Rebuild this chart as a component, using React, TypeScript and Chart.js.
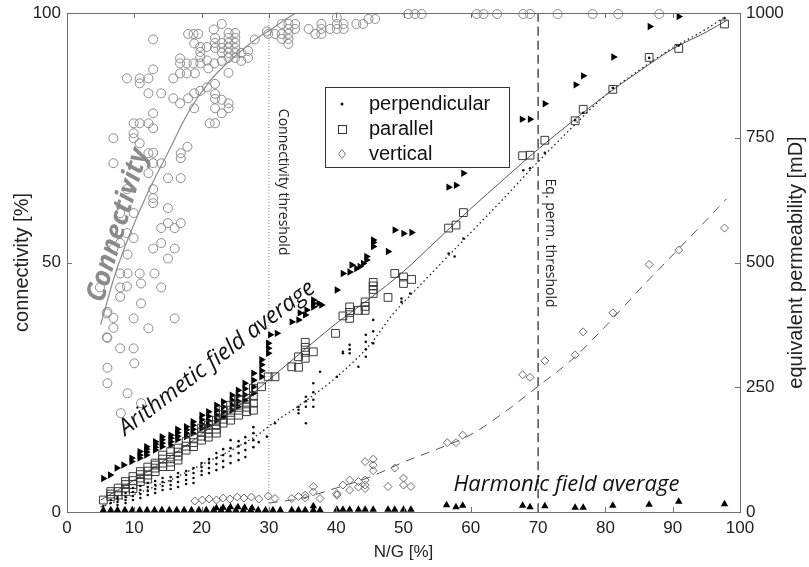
import React, { useEffect, useRef } from "react";
import { Chart, registerables } from "chart.js";

Chart.register(...registerables);

type Pt = [number, number];
type Col = [number, number[]];

// ---------- axes ----------
const xTicks = [0, 10, 20, 30, 40, 50, 60, 70, 80, 90, 100];
const connTicks = [0, 50, 100];
const permTicks = [0, 250, 500, 750, 1000];
const xTitle = "N/G [%]";
const connTitle = "connectivity [%]";
const permTitle = "equivalent permeability [mD]";

// ---------- thresholds (N/G %) ----------
const connThreshold = 30;
const permThreshold = 70;

// ---------- connectivity [%] (left axis) ----------
const connectivity: Pt[] = [
  [4.9, 45], [5.9, 39.8], [5.9, 35], [6.0, 40.1], [6.0, 28.9], [6.0, 25.8], [6.0, 34.9],
  [6.9, 74.9], [6.9, 69.9], [6.9, 52.8], [6.9, 38.9], [6.9, 36.9],
  [7.9, 59.9], [7.9, 53.9], [7.9, 47.8], [7.9, 45], [7.9, 43.1], [7.9, 32.8], [8.0, 19.8],
  [8.9, 86.9], [8.9, 64.7], [8.9, 55.9], [8.9, 45.2], [9.0, 51.6], [9.0, 47.8], [9.0, 23.8],
  [9.9, 77.9], [9.9, 75.9], [9.9, 74.9], [9.9, 59.9], [9.9, 54.9], [9.9, 38.8], [9.9, 32.8], [10, 29.8],
  [10.8, 86.9], [10.8, 85.9], [10.8, 77.9], [10.8, 73.9], [10.8, 47.8], [11, 45.8], [11, 41.8], [11, 21.8],
  [12.1, 86.9], [12.1, 83.9], [12.1, 77.9], [12.1, 71.9], [12.1, 67.9], [12.1, 36.8],
  [12.8, 94.7], [12.8, 88.7], [12.8, 79.9], [12.8, 76.9], [12.8, 72.0], [12.8, 69.9], [12.8, 64.7],
  [12.8, 62.9], [12.8, 61.9], [12.8, 52.8], [13, 47.8],
  [14, 83.9], [14, 69.9], [14, 56.9], [14, 53.9], [14, 45],
  [15, 66.9], [15, 60.9], [15, 57.9], [15, 50.8],
  [15.8, 86.9], [15.8, 82.9], [16, 52.8], [16, 38.8], [16, 56.9],
  [16.8, 89.9], [16.8, 90.9], [16.8, 87.9], [16.8, 81.9], [16.9, 71.9], [16.9, 70.9], [16.9, 66.9], [16.9, 57.9],
  [17.8, 89.9], [17.8, 87.9], [17.9, 73.2], [18, 95.8], [18, 82.9],
  [18.8, 95.8], [18.8, 89.9], [18.9, 93.9], [18.9, 83.9], [18.9, 80.9], [19, 87.9],
  [19.5, 95.8], [19.8, 93.2], [19.8, 92.2], [19.8, 91.2], [19.8, 89.9], [19.8, 84.4],
  [20.8, 93.2], [20.8, 90.5], [20.8, 85.1], [21.2, 77.9], [21, 88.9],
  [21.8, 96.7], [21.9, 89.9], [22, 95], [22, 94], [22, 93], [22, 85.8], [22, 83.8], [22, 82.8], [22, 80.9], [22, 77.9],
  [23, 97.8], [23, 94], [23, 93], [23, 92], [23, 90.4], [23, 82.6], [23, 79.9],
  [24, 96], [24, 95], [24, 94], [24, 93], [24, 92], [24, 91], [24, 88], [24, 81.9], [24, 80.9],
  [25, 96], [25, 95], [25, 94], [25, 93], [25, 92], [25, 91],
  [25.9, 92], [25.9, 90.4], [26.9, 91], [26.9, 92.4], [27.9, 94.7], [29.7, 96.3],
  [29.9, 95.8], [30.9, 95.8], [31.9, 97.8], [31.9, 95.8], [31.9, 94.8],
  [32.9, 97.8], [32.9, 96.8], [32.9, 95.8], [32.9, 94.8], [32.9, 93.8], [33.9, 97.8], [33.9, 96.8],
  [35.9, 96.8], [36.9, 95.8], [37.8, 97.8], [37.8, 96.8], [37.8, 95.8], [39.1, 96.8],
  [40.1, 99.1], [40.1, 97.8], [40.1, 96.8], [41.1, 97.8], [41.1, 96.8], [43, 97.8], [44, 97.8],
  [44.8, 98.8], [45.8, 98.8],
  [50.7, 99.8], [51.7, 99.8], [52.7, 99.8], [60.9, 99.8], [61.9, 99.8], [63.9, 99.8],
  [67.8, 99.8], [68.8, 99.8], [72.9, 99.8], [78.1, 99.8], [81.9, 99.8], [88, 99.8],
];
const connectivityFit: Pt[] = [
  [5, 37.5], [7, 47], [9.4, 55.9], [12, 64], [15, 72], [18, 80], [21, 86], [23.2, 89.2],
  [25.5, 92], [28.2, 94.9], [30.2, 96.6], [32, 98.3], [34, 100],
];

// ---------- equivalent permeability [mD] (right axis) ----------
const arithmetic: Col[] = [
  [5.4, [67]], [6.4, [74]], [7.4, [88]], [8.4, [94]], [9.6, [101, 108]],
  [10.8, [108, 114, 121]], [11.8, [114, 120, 126, 131]], [13.1, [124, 130, 136, 141]],
  [14.1, [131, 138, 145, 151]], [15.4, [134, 141, 148, 154]], [16.4, [145, 152, 159, 166]],
  [17.7, [151, 158, 165, 171]], [18.7, [158, 166, 174, 181]], [20.0, [168, 176, 185, 194]],
  [21.0, [174, 183, 192, 201]], [22.2, [184, 194, 204, 214]], [23.2, [191, 201, 211, 221]],
  [24.5, [204, 214, 224, 234]], [25.4, [211, 222, 233, 244]], [26.4, [224, 235, 247, 258]],
  [27.7, [238, 251, 264, 278]], [28.9, [271, 283, 295, 305]], [29.9, [318, 328, 338]],
  [30.2, [355]], [31.2, [358]], [33.4, [381]], [34.4, [385]], [34.6, [399]], [35.4, [395]],
  [35.6, [405]], [36.6, [411, 418, 425]], [37.4, [418]], [37.8, [415]], [40.1, [445]],
  [41.0, [478]], [42.0, [481]], [42.3, [495]], [43.0, [488]], [43.5, [492]], [44.0, [498]],
  [44.5, [505, 512]], [45.5, [532, 540, 545]], [47.7, [522]], [48.7, [565]], [50.0, [558]],
  [51.2, [560]], [56.7, [651]], [57.8, [655]], [58.9, [679]], [67.6, [787]], [68.8, [787]],
  [71.0, [818]], [75.6, [856]], [76.7, [874]], [81.2, [912]], [86.6, [973]], [90.9, [993]],
];

const parallel: Col[] = [
  [5.4, [24]], [6.5, [31, 36, 41]], [7.6, [34, 41, 48]], [8.7, [41, 48, 55, 61]],
  [9.8, [47, 55, 63, 71]], [10.9, [61, 68, 75, 81]], [12.0, [66, 74, 82, 90]],
  [13.1, [81, 88, 94, 98]], [14.2, [91, 98, 106, 114]], [15.4, [91, 100, 110, 121]],
  [16.5, [104, 112, 120, 128]], [17.7, [124, 132, 141]], [18.8, [131, 139, 148]],
  [20.0, [144, 152, 160, 168]], [21.0, [150, 158, 166, 174]], [22.2, [158, 166, 175, 184]],
  [23.2, [178, 186, 195, 204]], [24.3, [184, 194, 204, 214]], [25.5, [194, 204, 214, 224]],
  [26.7, [201, 210, 220, 228]], [27.7, [204, 218, 232, 248]], [28.9, [251]],
  [29.9, [271]], [30.9, [271]], [33.4, [291]], [34.4, [290, 311]], [35.4, [308, 320, 330, 340]],
  [36.6, [321]], [39.9, [358]], [41.0, [393]], [42.0, [388, 400, 411]], [43.3, [404]],
  [44.3, [404, 412, 421]], [45.5, [438, 446, 453, 460]], [47.7, [430]], [48.7, [478]],
  [50.0, [458, 471]], [51.2, [466]], [56.7, [569]], [57.8, [575]], [58.9, [600]],
  [67.7, [714]], [68.8, [715]], [71.0, [745]], [75.5, [784]], [76.7, [807]], [81.1, [847]],
  [86.5, [911]], [90.9, [929]], [97.7, [978]],
];
const parallelFit: Pt[] = [
  [5, 24], [10, 64], [15, 108], [20, 156], [25, 208], [30, 265], [35, 322], [40, 378],
  [45, 428], [50, 482], [55, 545], [60, 608], [65, 668], [70, 727], [75, 782], [80, 835],
  [85, 883], [90, 928], [95, 962], [98, 985],
];

const perpendicular: Col[] = [
  [5.4, [12]], [6.5, [18, 24]], [7.5, [14, 20, 26, 30]], [8.7, [18, 24, 30, 38]],
  [9.8, [24, 32, 40, 48]], [10.9, [28, 36, 44, 52]], [12.0, [34, 42, 50, 58]],
  [13.1, [38, 46, 54, 62]], [14.2, [44, 52, 60, 68]], [15.4, [46, 54, 62, 70]],
  [16.5, [50, 60, 70, 78]], [17.7, [56, 64, 74, 82]], [18.8, [58, 68, 78, 88]],
  [20.0, [74, 82, 90, 98]], [21.1, [78, 88, 98, 106]], [22.2, [84, 96, 108, 118]],
  [23.2, [90, 102, 114, 126]], [24.3, [98, 112, 128, 144]], [25.5, [104, 118, 132, 142]],
  [26.5, [110, 124, 138, 150]], [27.7, [130, 144, 158, 170]], [28.5, [140]], [29.7, [151]],
  [30.9, [178]], [34.4, [198, 205, 211]], [35.5, [178, 211, 222, 231]],
  [36.6, [211, 225, 240, 258]], [37.6, [281]], [40.1, [271]], [41.0, [318, 321]],
  [42.0, [318, 326, 335]], [43.3, [291]], [44.4, [311, 326, 341, 355]], [45.5, [338, 362, 385]],
  [49.7, [421, 428]], [51.0, [438]], [56.7, [518]], [57.6, [512]], [58.9, [548]],
  [67.8, [685]], [68.8, [689]], [71.0, [720]], [75.5, [785]], [76.7, [800]], [81.1, [850]],
  [86.5, [910]], [90.9, [935]], [97.7, [990]],
];
const perpendicularFit: Pt[] = [
  [5, 10], [10, 35], [15, 62], [20, 95], [25, 128], [28.7, 158], [30, 172], [35, 218],
  [40, 270], [45, 335], [48.5, 398], [50, 420], [52.5, 455], [55, 490], [60, 560],
  [65, 630], [68.8, 685], [70, 702], [75, 770], [80, 835], [85, 885], [90, 930],
  [95, 968], [97.5, 990],
];

const vertical: Col[] = [
  [19.0, [22]], [20.1, [24]], [21.1, [26]], [22.2, [24]], [23.2, [28]], [24.2, [26]],
  [25.3, [30]], [26.3, [28]], [27.4, [30]], [28.5, [26]], [29.9, [32]], [30.9, [27]],
  [33.4, [27]], [34.4, [31]], [35.4, [28, 34]], [36.6, [40, 51]], [37.6, [27]],
  [40.1, [34, 37]], [41.0, [54]], [42.0, [44, 64]], [43.3, [50, 61]], [44.3, [47, 54, 64, 101]],
  [45.5, [83, 94, 106]], [47.7, [51]], [48.7, [88]], [50.0, [54, 68]], [51.1, [51]],
  [56.5, [139]], [57.8, [139]], [58.8, [154]], [67.7, [275]], [68.8, [270]], [71.0, [303]],
  [75.5, [315]], [76.7, [361]], [81.1, [399]], [86.5, [496]], [90.9, [525]], [97.7, [569]],
];
const verticalFit: Pt[] = [
  [30, 18], [35, 28], [40, 48], [45, 70], [50, 100], [55, 126], [60, 155], [65, 200],
  [70, 252], [75, 305], [80, 372], [85, 445], [90, 515], [95, 585], [98, 628],
];

const harmonic: Pt[] = [
  [5.4, 4], [6.5, 4], [7.5, 4], [8.6, 4], [9.7, 4], [10.8, 4], [11.9, 4], [13.0, 4], [14.1, 4],
  [15.2, 4], [16.3, 4], [17.4, 4], [18.5, 4], [19.6, 4], [20.7, 4], [21.8, 4], [22.2, 8],
  [22.9, 4], [23.2, 9], [24.0, 4], [24.3, 10], [25.1, 4], [25.4, 10], [26.2, 4], [26.4, 9],
  [27.3, 4], [27.5, 8], [28.4, 4], [29.5, 4], [30.6, 4], [31.7, 4], [33.4, 4], [34.4, 4],
  [35.4, 4], [36.6, 4], [36.6, 12], [37.6, 4], [40.1, 5], [41.0, 5], [42.0, 5], [43.3, 5],
  [44.3, 5], [45.5, 5], [47.7, 5], [48.7, 5], [50.0, 5], [51.1, 5], [56.4, 14], [57.8, 10],
  [58.8, 13], [67.7, 13], [68.8, 10], [71.0, 12], [75.5, 9], [76.7, 9], [81.1, 13],
  [86.5, 15], [90.9, 21], [97.7, 16],
];

// ---------- legend & annotations ----------
const legendLabels = ["perpendicular", "parallel", "vertical"];

type Note = { text: string; x: number; y: number; axis: "conn" | "perm"; angle: number; font: string; color: string };
const notes: Note[] = [
  { text: "Connectivity", x: 7.6, y: 57.5, axis: "conn", angle: -73.5, font: 'italic bold 27px "Open Sans"', color: "#8a8a8a" },
  { text: "Arithmetic field average", x: 22.3, y: 308, axis: "perm", angle: -37.3, font: 'italic 23px "Open Sans"', color: "#111" },
  { text: "Harmonic field average", x: 74.2, y: 55, axis: "perm", angle: 0, font: 'italic 22px "Open Sans"', color: "#111" },
  { text: "Connectivity threshold", x: 32.1, y: 66.1, axis: "conn", angle: 90, font: '14px "Open Sans"', color: "#222" },
  { text: "Eq. perm. threshold", x: 71.8, y: 53.9, axis: "conn", angle: 90, font: '14px "Open Sans"', color: "#222" },
];

const pts = (a: Pt[]) => a.map(([x, y]) => ({ x, y }));
const flat = (c: Col[]) => c.flatMap(([x, ys]) => ys.map((y) => ({ x, y })));

const FRAME = "#6e6e6e";
const AXIS_FONT = '"Liberation Sans", Arial, sans-serif';

const decor = {
  id: "decor",
  afterDraw(chart: any) {
    const { ctx, chartArea: a, scales } = chart;
    const sx = scales.x, sl = scales.yConn, sr = scales.yPerm;
    ctx.save();
    // frame
    ctx.strokeStyle = FRAME;
    ctx.lineWidth = 1;
    ctx.strokeRect(Math.round(a.left) + 0.5, Math.round(a.top) + 0.5, Math.round(a.right - a.left), Math.round(a.bottom - a.top));
    // inward ticks
    const T = 5;
    ctx.beginPath();
    xTicks.forEach((v) => {
      const p = Math.round(sx.getPixelForValue(v)) + 0.5;
      ctx.moveTo(p, a.bottom); ctx.lineTo(p, a.bottom - T);
      ctx.moveTo(p, a.top); ctx.lineTo(p, a.top + T);
    });
    connTicks.forEach((v) => {
      const p = Math.round(sl.getPixelForValue(v)) + 0.5;
      ctx.moveTo(a.left, p); ctx.lineTo(a.left + T, p);
    });
    permTicks.forEach((v) => {
      const p = Math.round(sr.getPixelForValue(v)) + 0.5;
      ctx.moveTo(a.right, p); ctx.lineTo(a.right - T, p);
    });
    ctx.stroke();

    // axis titles
    ctx.fillStyle = "#222";
    ctx.textAlign = "center";
    ctx.textBaseline = "middle";
    ctx.font = `17px ${AXIS_FONT}`;
    ctx.fillText(xTitle, (a.left + a.right) / 2, 552);
    ctx.font = `20px ${AXIS_FONT}`;
    ctx.save();
    ctx.translate(22, (a.top + a.bottom) / 2);
    ctx.rotate(-Math.PI / 2);
    ctx.fillText(connTitle, 0, 0);
    ctx.restore();
    ctx.save();
    ctx.translate(796, (a.top + a.bottom) / 2);
    ctx.rotate(-Math.PI / 2);
    ctx.fillText(permTitle, 0, 0);
    ctx.restore();

    // annotations
    notes.forEach((n) => {
      const px = sx.getPixelForValue(n.x);
      const py = (n.axis === "conn" ? sl : sr).getPixelForValue(n.y);
      ctx.save();
      ctx.translate(px, py);
      ctx.rotate((n.angle * Math.PI) / 180);
      ctx.font = n.font;
      ctx.fillStyle = n.color;
      ctx.textAlign = "center";
      ctx.textBaseline = "middle";
      ctx.fillText(n.text, 0, 0);
      ctx.restore();
    });

    // legend box
    const bx = a.left + 258, by = a.top + 74, bw = 184, bh = 80;
    ctx.fillStyle = "#fff";
    ctx.fillRect(bx, by, bw, bh);
    ctx.strokeStyle = "#333";
    ctx.strokeRect(bx + 0.5, by + 0.5, bw, bh);
    ctx.font = `20px ${AXIS_FONT}`;
    ctx.textAlign = "left";
    ctx.fillStyle = "#111";
    legendLabels.forEach((lab, i) => {
      const cy = by + 17 + i * 25;
      const mx = bx + 17;
      ctx.fillText(lab, bx + 44, cy);
      ctx.beginPath();
      if (i === 0) {
        ctx.fillStyle = "#111";
        ctx.arc(mx, cy, 1.5, 0, Math.PI * 2);
        ctx.fill();
      } else if (i === 1) {
        ctx.strokeStyle = "#333";
        ctx.strokeRect(mx - 4 + 0.5, cy - 4 + 0.5, 8, 8);
      } else {
        ctx.strokeStyle = "#777";
        ctx.moveTo(mx, cy - 4.5); ctx.lineTo(mx + 3.5, cy); ctx.lineTo(mx, cy + 4.5); ctx.lineTo(mx - 3.5, cy); ctx.closePath();
        ctx.stroke();
      }
      ctx.fillStyle = "#111";
    });
    ctx.restore();
  },
};

export default function App() {
  const ref = useRef<HTMLCanvasElement | null>(null);
  useEffect(() => {
    if (!ref.current) return;
    Chart.defaults.font.family = AXIS_FONT;
    const line = (data: Pt[], yAxisID: string, color: string, dash: number[], width = 1, tension = 0.35) => ({
      type: "line" as const,
      data: pts(data),
      yAxisID,
      showLine: true,
      borderColor: color,
      borderWidth: width,
      borderDash: dash,
      pointRadius: 0,
      fill: false,
      tension,
      cubicInterpolationMode: "monotone" as const,
    });
    const chart = new Chart(ref.current, {
      type: "scatter",
      data: {
        datasets: [
          {
            label: "perpendicular",
            data: flat(perpendicular),
            yAxisID: "yPerm",
            pointStyle: "circle",
            pointRadius: 1.3,
            backgroundColor: "#111",
            borderColor: "#111",
            borderWidth: 0,
            clip: false,
          } as any,
          {
            label: "parallel",
            data: flat(parallel),
            yAxisID: "yPerm",
            pointStyle: "rect",
            pointRadius: 5.5,
            backgroundColor: "rgba(0,0,0,0)",
            borderColor: "#3a3a3a",
            borderWidth: 1,
            clip: false,
          },
          {
            label: "vertical",
            data: flat(vertical),
            yAxisID: "yPerm",
            pointStyle: "rectRot",
            pointRadius: 4,
            backgroundColor: "rgba(0,0,0,0)",
            borderColor: "#6a6a6a",
            borderWidth: 1,
            clip: false,
          },
          {
            label: "Arithmetic field average",
            data: flat(arithmetic),
            yAxisID: "yPerm",
            pointStyle: "triangle",
            rotation: 90,
            pointRadius: 4.3,
            backgroundColor: "#000",
            borderColor: "#000",
            borderWidth: 0,
            clip: false,
          },
          {
            label: "Harmonic field average",
            data: pts(harmonic),
            yAxisID: "yPerm",
            pointStyle: "triangle",
            pointRadius: 4.3,
            backgroundColor: "#000",
            borderColor: "#000",
            borderWidth: 0,
            clip: false,
          },
          {
            label: "Connectivity",
            data: pts(connectivity),
            yAxisID: "yConn",
            pointStyle: "circle",
            pointRadius: 4.5,
            backgroundColor: "rgba(0,0,0,0)",
            borderColor: "#8c8c8c",
            borderWidth: 1,
            clip: false,
          },
          line(connectivityFit, "yConn", "#8c8c8c", [], 1.2, 0.4),
          line(parallelFit, "yPerm", "#555", [], 1, 0.3),
          line(perpendicularFit, "yPerm", "#222", [1.5, 3], 1.3, 0.3),
          line(verticalFit, "yPerm", "#555", [9, 7], 1, 0.3),
          line([[connThreshold, 0], [connThreshold, 100]], "yConn", "#777", [1, 2], 1, 0),
          line([[permThreshold, 0], [permThreshold, 100]], "yConn", "#222", [9, 5], 1.2, 0),
        ] as any,
      },
      options: {
        responsive: false,
        animation: false,
        devicePixelRatio: 1,
        layout: { padding: { top: 13, left: 0, right: 0, bottom: 0 } },
        plugins: { legend: { display: false }, tooltip: { enabled: false } },
        scales: {
          x: {
            type: "linear",
            min: 0,
            max: 100,
            grid: { display: false, drawTicks: false },
            border: { display: false },
            ticks: { stepSize: 10, padding: 6, color: "#222", font: { size: 17 }, callback: (v: any) => String(v) },
            afterFit: (s: any) => { s.height = 55; s.paddingLeft = 0; s.paddingRight = 0; },
          },
          yConn: {
            type: "linear",
            position: "left",
            min: 0,
            max: 100,
            grid: { display: false, drawTicks: false },
            border: { display: false },
            ticks: { stepSize: 50, padding: 6, color: "#222", font: { size: 17 }, callback: (v: any) => String(v) },
            afterFit: (s: any) => { s.width = 67; s.paddingTop = 0; s.paddingBottom = 0; },
          },
          yPerm: {
            type: "linear",
            position: "right",
            min: 0,
            max: 1000,
            grid: { display: false, drawTicks: false },
            border: { display: false },
            ticks: { stepSize: 250, padding: 6, color: "#222", font: { size: 17 }, callback: (v: any) => String(v) },
            afterFit: (s: any) => { s.width = 69; s.paddingTop = 0; s.paddingBottom = 0; },
          },
        },
      } as any,
      plugins: [decor],
    });
    return () => chart.destroy();
  }, []);
  return (
    <div style={{ position: "absolute", left: 0, top: 0, width: 809, height: 567, background: "#fff" }}>
      <canvas ref={ref} width={809} height={567} style={{ display: "block" }} />
    </div>
  );
}
